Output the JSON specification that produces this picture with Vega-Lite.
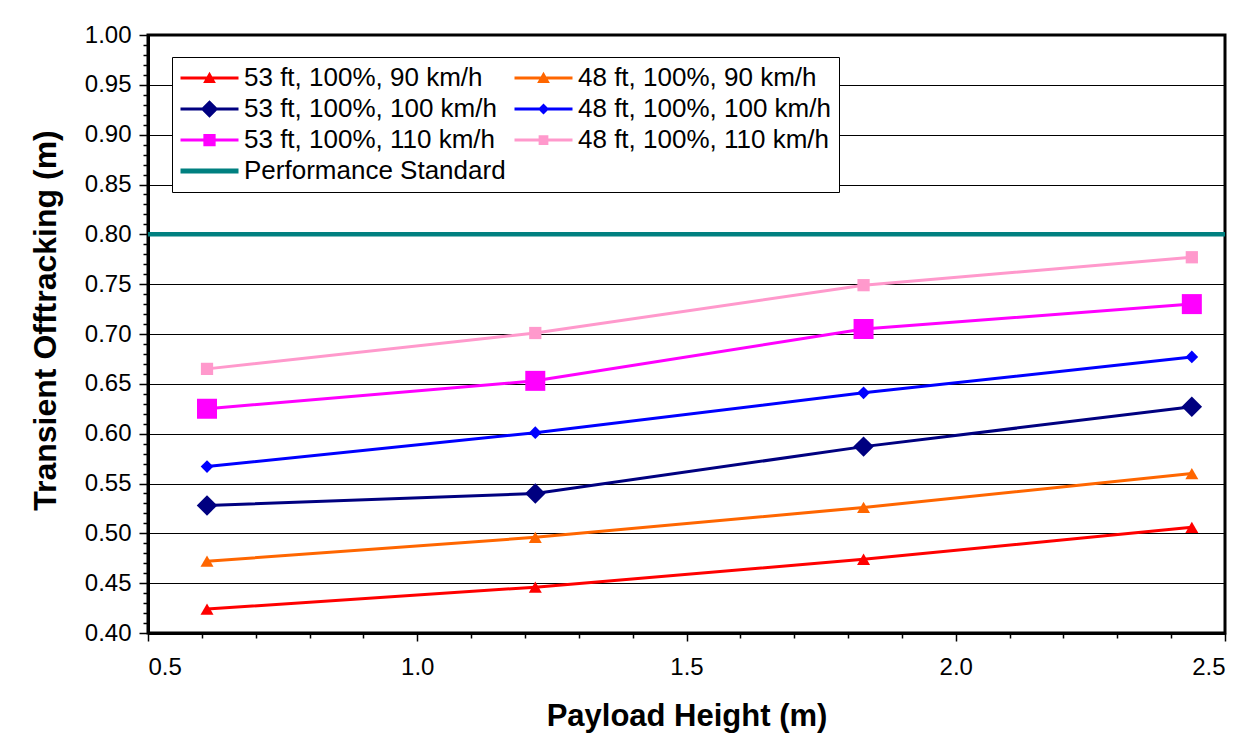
{
  "$schema": "https://vega.github.io/schema/vega-lite/v6.json",
  "width": 1077,
  "height": 598,
  "autosize": {"type": "none"},
  "padding": {"left": 148, "top": 35, "right": 30, "bottom": 117},
  "background": "white",
  "config": {
    "view": {"stroke": "black", "strokeWidth": 3},
    "font": "Liberation Sans",
    "axis": {"labelFont": "Liberation Sans", "titleFont": "Liberation Sans", "labelColor": "black", "titleColor": "black", "tickColor": "black", "domainColor": "black"},
    "legend": {
      "orient": "none",
      "legendX": 24,
      "legendY": 22,
      "direction": "horizontal",
      "columns": 2,
      "columnPadding": 8,
      "rowPadding": 5,
      "padding": 8,
      "fillColor": "white",
      "strokeColor": "black",
      "labelFont": "Liberation Sans",
      "labelFontSize": 26,
      "labelColor": "black",
      "labelOffset": 38,
      "labelLimit": 400,
      "symbolSize": 625,
      "symbolStrokeWidth": 0,
      "symbolOpacity": 1
    }
  },
  "data": {
    "values": [
      {"series": "53 ft, 100%, 90 km/h", "x": 0.6096, "y": 0.424},
      {"series": "53 ft, 100%, 90 km/h", "x": 1.2192, "y": 0.446},
      {"series": "53 ft, 100%, 90 km/h", "x": 1.8288, "y": 0.474},
      {"series": "53 ft, 100%, 90 km/h", "x": 2.4384, "y": 0.506},
      {"series": "48 ft, 100%, 90 km/h", "x": 0.6096, "y": 0.472},
      {"series": "48 ft, 100%, 90 km/h", "x": 1.2192, "y": 0.496},
      {"series": "48 ft, 100%, 90 km/h", "x": 1.8288, "y": 0.526},
      {"series": "48 ft, 100%, 90 km/h", "x": 2.4384, "y": 0.560},
      {"series": "53 ft, 100%, 100 km/h", "x": 0.6096, "y": 0.528},
      {"series": "53 ft, 100%, 100 km/h", "x": 1.2192, "y": 0.540},
      {"series": "53 ft, 100%, 100 km/h", "x": 1.8288, "y": 0.587},
      {"series": "53 ft, 100%, 100 km/h", "x": 2.4384, "y": 0.627},
      {"series": "48 ft, 100%, 100 km/h", "x": 0.6096, "y": 0.567},
      {"series": "48 ft, 100%, 100 km/h", "x": 1.2192, "y": 0.601},
      {"series": "48 ft, 100%, 100 km/h", "x": 1.8288, "y": 0.641},
      {"series": "48 ft, 100%, 100 km/h", "x": 2.4384, "y": 0.677},
      {"series": "53 ft, 100%, 110 km/h", "x": 0.6096, "y": 0.625},
      {"series": "53 ft, 100%, 110 km/h", "x": 1.2192, "y": 0.653},
      {"series": "53 ft, 100%, 110 km/h", "x": 1.8288, "y": 0.705},
      {"series": "53 ft, 100%, 110 km/h", "x": 2.4384, "y": 0.730},
      {"series": "48 ft, 100%, 110 km/h", "x": 0.6096, "y": 0.665},
      {"series": "48 ft, 100%, 110 km/h", "x": 1.2192, "y": 0.701},
      {"series": "48 ft, 100%, 110 km/h", "x": 1.8288, "y": 0.749},
      {"series": "48 ft, 100%, 110 km/h", "x": 2.4384, "y": 0.777},
      {"series": "Performance Standard", "x": 0.5, "y": 0.80},
      {"series": "Performance Standard", "x": 2.5, "y": 0.80}
    ]
  },
  "encoding": {
    "x": {
      "field": "x", "type": "quantitative",
      "scale": {"domain": [0.5, 2.5], "nice": false, "zero": false},
      "axis": {
        "orient": "bottom",
        "values": [0.5, 0.6, 0.7, 0.8, 0.9, 1.0, 1.1, 1.2, 1.3, 1.4, 1.5, 1.6, 1.7, 1.8, 1.9, 2.0, 2.1, 2.2, 2.3, 2.4, 2.5],
        "labelExpr": "abs(datum.value*2 - round(datum.value*2)) < 0.001 ? format(datum.value, '.1f') : ''",
        "labelOverlap": false,
        "labelFontSize": 24,
        "tickSize": {"condition": {"test": "abs(datum.value*2 - round(datum.value*2)) < 0.001", "value": 8}, "value": 5},
        "tickWidth": 1.5,
        "labelPadding": 14,
        "grid": false,
        "domainWidth": 3,
        "title": "Payload Height (m)",
        "titleFontSize": 31,
        "titleFontWeight": "bold",
        "titlePadding": 22
      }
    },
    "y": {
      "field": "y", "type": "quantitative",
      "scale": {"domain": [0.4, 1.0], "nice": false, "zero": false},
      "axis": {
        "orient": "left",
        "values": [0.40, 0.41, 0.42, 0.43, 0.44, 0.45, 0.46, 0.47, 0.48, 0.49, 0.50, 0.51, 0.52, 0.53, 0.54, 0.55, 0.56, 0.57, 0.58, 0.59, 0.60, 0.61, 0.62, 0.63, 0.64, 0.65, 0.66, 0.67, 0.68, 0.69, 0.70, 0.71, 0.72, 0.73, 0.74, 0.75, 0.76, 0.77, 0.78, 0.79, 0.80, 0.81, 0.82, 0.83, 0.84, 0.85, 0.86, 0.87, 0.88, 0.89, 0.90, 0.91, 0.92, 0.93, 0.94, 0.95, 0.96, 0.97, 0.98, 0.99, 1.00],
        "labelExpr": "abs(datum.value*20 - round(datum.value*20)) < 0.001 ? format(datum.value, '.2f') : ''",
        "labelOverlap": false,
        "labelFontSize": 24,
        "tickSize": {"condition": {"test": "abs(datum.value*20 - round(datum.value*20)) < 0.001", "value": 9}, "value": 5},
        "tickWidth": 1.5,
        "labelPadding": 8,
        "grid": true,
        "gridColor": "black",
        "gridWidth": 1,
        "gridOpacity": {"condition": {"test": "abs(datum.value*20 - round(datum.value*20)) < 0.001", "value": 1}, "value": 0},
        "domainWidth": 3,
        "title": "Transient Offtracking (m)",
        "titleFontSize": 32,
        "titleFontWeight": "bold",
        "titlePadding": 22,
        "titleY": 285
      }
    },
    "color": {
      "field": "series",
      "type": "nominal",
      "scale": {
        "domain": ["53 ft, 100%, 90 km/h", "48 ft, 100%, 90 km/h", "53 ft, 100%, 100 km/h", "48 ft, 100%, 100 km/h", "53 ft, 100%, 110 km/h", "48 ft, 100%, 110 km/h", "Performance Standard"],
        "range": ["#FF0000", "#FF6600", "#000080", "#0000FF", "#FF00FF", "#FF99CC", "#008080"]
      },
      "legend": {"title": null}
    }
  },
  "layer": [
    {
      "transform": [{"filter": "false"}],
      "mark": {"type": "point", "filled": true, "opacity": 1},
      "encoding": {
        "shape": {
          "field": "series", "type": "nominal",
          "scale": {
            "domain": ["53 ft, 100%, 90 km/h", "48 ft, 100%, 90 km/h", "53 ft, 100%, 100 km/h", "48 ft, 100%, 100 km/h", "53 ft, 100%, 110 km/h", "48 ft, 100%, 110 km/h", "Performance Standard"],
            "range": [
              "M-1,-0.128H3.64V0.128H-1ZM1.32,-0.51L1.83,0.39L0.81,0.39Z",
              "M-1,-0.128H3.64V0.128H-1ZM1.32,-0.51L1.83,0.39L0.81,0.39Z",
              "M-1,-0.128H3.64V0.128H-1ZM0.62,0L1.32,-0.7L2.02,0L1.32,0.7Z",
              "M-1,-0.128H3.64V0.128H-1ZM0.88,0L1.32,-0.44L1.76,0L1.32,0.44Z",
              "M-1,-0.128H3.64V0.128H-1ZM0.83,-0.49H1.81V0.49H0.83Z",
              "M-1,-0.128H3.64V0.128H-1ZM0.93,-0.39H1.71V0.39H0.93Z",
              "M-1,-0.2H3.64V0.2H-1Z"
            ]
          },
          "legend": {"title": null}
        }
      }
    },
    {
      "transform": [{"filter": "datum.series === 'Performance Standard'"}],
      "mark": {"type": "line", "strokeWidth": 4.5}
    },
    {
      "transform": [{"filter": "datum.series !== 'Performance Standard'"}],
      "mark": {"type": "line", "strokeWidth": 3}
    },
    {
      "transform": [{"filter": "datum.series === '53 ft, 100%, 90 km/h' || datum.series === '48 ft, 100%, 90 km/h'"}],
      "mark": {"type": "point", "filled": true, "opacity": 1, "strokeWidth": 0, "shape": "triangle-up", "size": 169}
    },
    {
      "transform": [{"filter": "datum.series === '53 ft, 100%, 100 km/h'"}],
      "mark": {"type": "point", "filled": true, "opacity": 1, "strokeWidth": 0, "shape": "diamond", "size": 420}
    },
    {
      "transform": [{"filter": "datum.series === '48 ft, 100%, 100 km/h'"}],
      "mark": {"type": "point", "filled": true, "opacity": 1, "strokeWidth": 0, "shape": "diamond", "size": 160}
    },
    {
      "transform": [{"filter": "datum.series === '53 ft, 100%, 110 km/h'"}],
      "mark": {"type": "point", "filled": true, "opacity": 1, "strokeWidth": 0, "shape": "square", "size": 400}
    },
    {
      "transform": [{"filter": "datum.series === '48 ft, 100%, 110 km/h'"}],
      "mark": {"type": "point", "filled": true, "opacity": 1, "strokeWidth": 0, "shape": "square", "size": 150}
    }
  ]
}
